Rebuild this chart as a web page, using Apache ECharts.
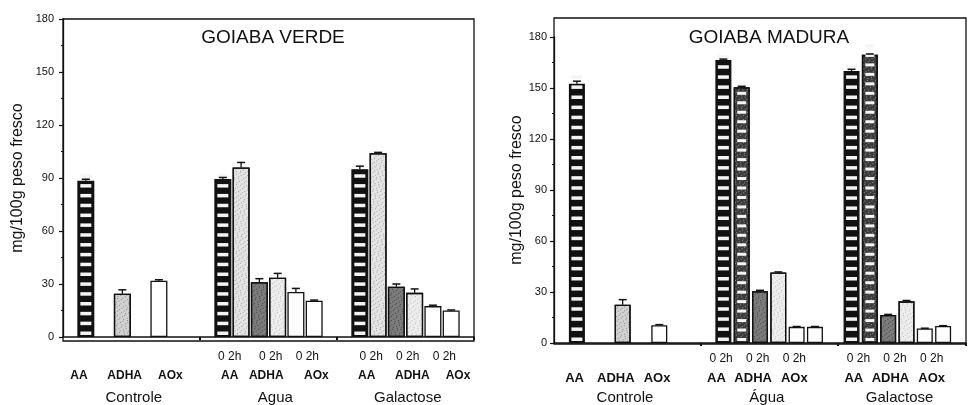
<!DOCTYPE html>
<html><head><meta charset="utf-8">
<script src="https://cdn.jsdelivr.net/npm/echarts@6/dist/echarts.min.js"></script>
<style>html,body{margin:0;padding:0;background:#fff}#c{width:977px;height:405px}</style>
</head><body><div id="c"></div>
<script>
// ================= DATA =================
const compounds = ['AA', 'ADHA', 'AOx'];
const groupsVerde = ['Controle', 'Agua', 'Galactose'];
const groupsMadura = ['Controle', 'Água', 'Galactose'];
const timeLabel = '0 2h';
const titles = ['GOIABA VERDE', 'GOIABA MADURA'];
const yName = 'mg/100g peso fresco';
const yTicks = [0, 30, 60, 90, 120, 150, 180];

// GOIABA VERDE  (order: AA, ADHA, AOx)
const verdeControle    = [88.5, 24.5, 31.8];
const verdeControleErr = [0.8, 2.2, 0.6];
const verdeAgua0       = [89.5, 31, 25.5];
const verdeAgua0Err    = [0.8, 2, 2];
const verdeAgua2h      = [96, 33.5, 20.5];
const verdeAgua2hErr   = [2.8, 2.5, 0.4];
const verdeGal0        = [95, 28.5, 17.5];
const verdeGal0Err     = [1.7, 1.5, 0.5];
const verdeGal2h       = [104, 25, 15];
const verdeGal2hErr    = [0.5, 2.2, 0.3];

// GOIABA MADURA
const maduraControle    = [152.5, 22.5, 10.5];
const maduraControleErr = [1.5, 3, 0.3];
const maduraAgua0       = [166.5, 30.5, 9.5];
const maduraAgua0Err    = [0.5, 0.5, 0.2];
const maduraAgua2h      = [150.5, 41.5, 9.5];
const maduraAgua2hErr   = [0.5, 0.3, 0.2];
const maduraGal0        = [160, 16.5, 8.5];
const maduraGal0Err     = [1, 0.3, 0.2];
const maduraGal2h       = [169.5, 24.5, 10];
const maduraGal2hErr    = [0.5, 0.5, 0.2];

// ================= LAYOUT / STYLE =================
const N = 45, NL = 90;
const TXT = '#111';
const layoutVerde = {
  grid: {left: 63, top: 19, right: 503, bottom: 64}, box: {left: 63, top: 19, right: 503, bottom: 64},
  controle: [2, 6, 10], groupStart: [17, 32], sep: [15, 30],
  row1: [36, 45, 53, 67, 75, 83], row2: [[3, 13, 23], [36, 44, 55], [66, 76, 86]], row3: [15, 46, 75],
  barWidth: 17, nameGap: 37, labelMargin: 9, r1: 14, r2: [20, 13], r3: [41, 12], r2Size: 12,
  title: {x: 268, y: 23}
};
const layoutMadura = {
  grid: {left: 554, top: 37, right: 11, bottom: 61}, box: {left: 554, top: 18, right: 11, bottom: 61},
  controle: [2, 7, 11], groupStart: [18, 32], sep: [16, 31],
  row1: [36, 44, 52, 66, 74, 82], row2: [[4, 13, 22], [35, 43, 52], [65, 73, 82]], row3: [15, 46, 75],
  barWidth: 16, nameGap: 27, labelMargin: 7, r1: 10, r2: [18, 11], r3: [37, 10], r2Size: 13,
  title: {x: 764, y: 23}
};

const BORDER = {borderColor: '#111', borderWidth: 1.3};
function dots(color) {
  return {symbol: 'rect', symbolSize: 1, color: color,
    dashArrayX: [[1, 3], [0, 2, 1, 2], [1, 4]], dashArrayY: [1, 1], rotation: 0.3};
}
const kindStyle = {
  aa:     {color: '#111'},
  aa2hV:  {color: '#e4e4e4', decal: dots('rgba(70,70,70,0.45)')},
  aa2hM:  {color: '#3a3a3a', decal: dots('rgba(230,230,230,0.5)')},
  adhaC:  {color: '#d2d2d2', decal: dots('rgba(60,60,60,0.5)')},
  adha0:  {color: '#7c7c7c', decal: dots('rgba(20,20,20,0.6)')},
  adha2h: {color: '#eeeeee', decal: dots('rgba(90,90,90,0.35)')},
  aox:    {color: '#ffffff'}
};
const dashKinds = {aa: [11, 3.5], aa2hM: [9, 3]};

function buildChart(ctrl, ctrlErr, g0, g0Err, g2h, g2hErr, kinds2h, L) {
  const bars = new Array(N).fill('-');
  const dashes = new Array(N).fill('-');
  const errs = [];
  function put(slot, v, e, kind) {
    bars[slot] = {value: v, itemStyle: Object.assign({}, kindStyle[kind], BORDER)};
    if (dashKinds[kind]) dashes[slot] = {value: v, symbolSize: dashKinds[kind]};
    errs.push([slot, v, e]);
  }
  const ctrlKinds = ['aa', 'adhaC', 'aox'];
  const kinds0 = ['aa', 'adha0', 'aox'];
  ctrl.forEach((v, k) => put(L.controle[k], v, ctrlErr[k], ctrlKinds[k]));
  [0, 1].forEach(g => {
    compounds.forEach((c, k) => {
      put(L.groupStart[g] + 4 * k, g0[g][k], g0Err[g][k], kinds0[k]);
      put(L.groupStart[g] + 4 * k + 2, g2h[g][k], g2hErr[g][k], kinds2h[k]);
    });
  });
  return {bars, dashes, errs};
}

const chartV = buildChart(verdeControle, verdeControleErr,
  [verdeAgua0, verdeGal0], [verdeAgua0Err, verdeGal0Err],
  [verdeAgua2h, verdeGal2h], [verdeAgua2hErr, verdeGal2hErr],
  ['aa2hV', 'adha2h', 'aox'], layoutVerde);
const chartM = buildChart(maduraControle, maduraControleErr,
  [maduraAgua0, maduraGal0], [maduraAgua0Err, maduraGal0Err],
  [maduraAgua2h, maduraGal2h], [maduraAgua2hErr, maduraGal2hErr],
  ['aa2hM', 'adha2h', 'aox'], layoutMadura);

function idxCats(n) { return Array.from({length: n}, (_, i) => String(i)); }
function labelMap(positions, texts) {
  const m = {};
  positions.forEach((p, i) => { m[p] = texts[i]; });
  return m;
}

const option = {
  animation: false,
  backgroundColor: '#fff',
  title: [], grid: [], xAxis: [], yAxis: [], series: []
};

function renderErr(params, api) {
  const x = api.value(0), v = api.value(1), e = api.value(2);
  const a = api.coord([x, v]), b = api.coord([x, v + e]);
  const hw = 4;
  return {type: 'group', children: [
    {type: 'line', shape: {x1: a[0], y1: a[1], x2: b[0], y2: b[1]}, style: {stroke: '#111', lineWidth: 1.3}},
    {type: 'line', shape: {x1: b[0] - hw, y1: b[1], x2: b[0] + hw, y2: b[1]}, style: {stroke: '#111', lineWidth: 1.5}}
  ]};
}

function addChart(chart, L, groups, title) {
  const gBox = option.grid.length;
  option.grid.push(Object.assign({show: true, borderColor: '#111', borderWidth: 1.3, backgroundColor: 'transparent'}, L.box));
  const gPlot = option.grid.length;
  option.grid.push(Object.assign({show: false}, L.grid));

  option.title.push({text: title, left: L.title.x, top: L.title.y, textAlign: 'center',
    textStyle: {fontFamily: 'Liberation Sans, Arial, sans-serif', fontSize: 19, fontWeight: 'normal', color: TXT}});

  option.xAxis.push({gridIndex: gBox, type: 'value', show: false});
  option.yAxis.push({gridIndex: gBox, type: 'value', show: false});

  const yIdx = option.yAxis.length;
  option.yAxis.push({
    gridIndex: gPlot, type: 'value', min: yTicks[0], max: yTicks[yTicks.length - 1], interval: yTicks[1] - yTicks[0],
    name: yName, nameLocation: 'middle', nameGap: L.nameGap,
    nameTextStyle: {fontFamily: 'Liberation Sans, Arial, sans-serif', fontSize: 16, color: TXT},
    axisLine: {show: true, lineStyle: {color: '#111', width: 1.3}},
    axisTick: {show: true, length: 4, lineStyle: {color: '#111', width: 1.2}},
    minorTick: {show: true, splitNumber: 2, length: 2, lineStyle: {color: '#111', width: 1}},
    splitLine: {show: false},
    axisLabel: {margin: L.labelMargin, fontFamily: 'Liberation Sans, Arial, sans-serif', fontSize: 11, color: TXT}
  });

  const xIdx = option.xAxis.length;
  option.xAxis.push({
    gridIndex: gPlot, type: 'category', position: 'bottom', data: idxCats(N),
    axisLine: {show: true, lineStyle: {color: '#111', width: 1.5}},
    axisTick: {show: true, length: 3, interval: (i) => L.sep.indexOf(i) >= 0, lineStyle: {color: '#111', width: 2}},
    axisLabel: {show: false}, splitLine: {show: false}
  });

  const fontBase = {fontFamily: 'Liberation Sans, Arial, sans-serif', color: TXT};
  const row1 = labelMap(L.row1, L.row1.map(() => timeLabel));
  const row2pos = [].concat(...L.row2);
  const row2 = labelMap(row2pos, row2pos.map((_, i) => compounds[i % 3]));
  const row3 = labelMap(L.row3, groups);
  [[row1, 0, L.r1, 12, 'normal'], [row2, L.r2[0], L.r2[1], L.r2Size, 'bold'], [row3, L.r3[0], L.r3[1], 15, 'normal']]
    .forEach(([m, off, mar, fs, fw]) => {
      option.xAxis.push({
        gridIndex: gPlot, type: 'category', position: 'bottom', offset: off, data: idxCats(NL),
        axisLine: {show: false}, axisTick: {show: false}, splitLine: {show: false},
        axisLabel: Object.assign({interval: 0, margin: mar, fontSize: fs, fontWeight: fw, hideOverlap: false,
          formatter: (v, i) => m[i] || ''}, fontBase)
      });
    });

  option.series.push({
    type: 'bar', xAxisIndex: xIdx, yAxisIndex: yIdx, data: chart.bars, barWidth: L.barWidth, z: 2
  });
  option.series.push({
    type: 'pictorialBar', xAxisIndex: xIdx, yAxisIndex: yIdx, data: chart.dashes, barWidth: L.barWidth,
    symbol: 'rect', symbolRepeat: true, symbolMargin: 3.3, symbolPosition: 'start', symbolOffset: [0, -2],
    itemStyle: {color: '#f4f4f4'}, z: 3
  });
  option.series.push({
    type: 'custom', xAxisIndex: xIdx, yAxisIndex: yIdx, renderItem: renderErr, data: chart.errs, z: 4,
    encode: {x: 0, y: 1}
  });
}

addChart(chartV, layoutVerde, groupsVerde, titles[0]);
addChart(chartM, layoutMadura, groupsMadura, titles[1]);

const ec = echarts.init(document.getElementById('c'), null, {renderer: 'canvas'});
ec.setOption(option);
</script></body></html>
